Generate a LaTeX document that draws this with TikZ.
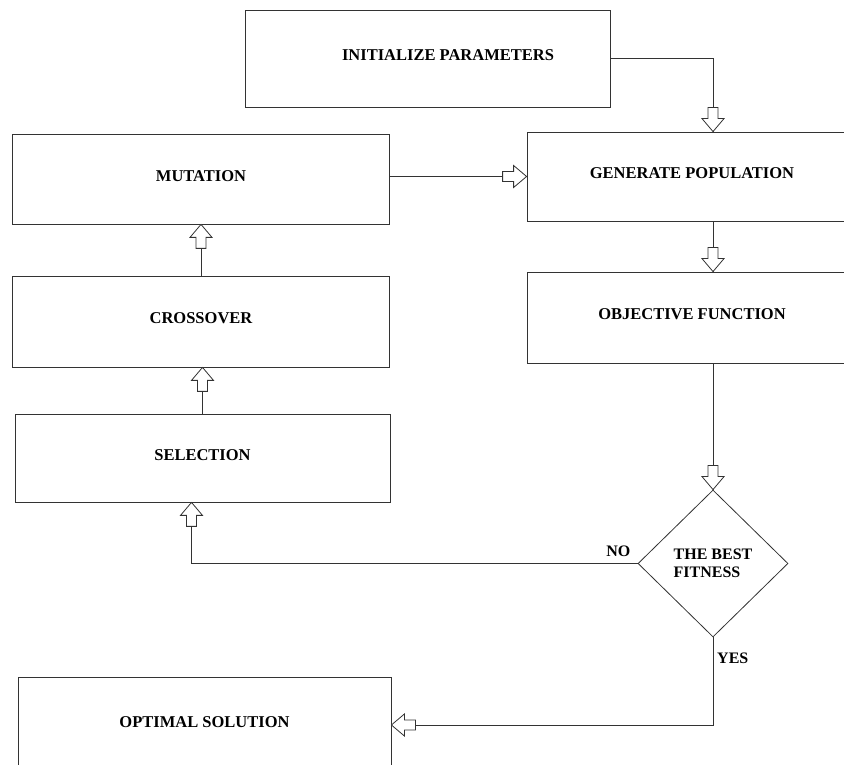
\documentclass[tikz,border=0pt]{standalone}
\usepackage{fontspec}
\setmainfont{Liberation Serif}
\usetikzlibrary{shapes.geometric,decorations.markings}
\tikzset{
  box/.style={draw=black!80, line width=0.8pt, minimum width=377pt, minimum height=90pt,
    text depth=6pt, font=\fontsize{16.5}{18}\selectfont\bfseries},
  dec/.style={diamond, draw=black!80, line width=0.8pt, minimum width=150pt, minimum height=147pt,
    inner sep=0pt, align=left, font=\fontsize{16}{18}\selectfont\bfseries},
  lbl/.style={inner sep=0pt, font=\fontsize{16}{18}\selectfont\bfseries},
  blk/.style={draw=black!80, line width=0.8pt, postaction={decorate},
    decoration={markings, mark=at position 1 with {
      \draw[draw=black!80, fill=white, line join=miter]
        (0pt,0pt) -- (-13pt,11pt) -- (-13pt,5pt) -- (-24pt,5pt)
        -- (-24pt,-5pt) -- (-13pt,-5pt) -- (-13pt,-11pt) -- cycle;}}}
}
\begin{document}
\begin{tikzpicture}[x=1pt,y=1pt]
  \useasboundingbox (0,0) rectangle (844,765);
  \clip (0,0) rectangle (844,765);
  % boxes
  \node[box, minimum width=365pt, minimum height=97pt] (init) at (427.5,706.5) {\hspace*{41pt}INITIALIZE PARAMETERS};
  \node[box] (mut) at (201,586) {MUTATION};
  \node[box, minimum height=91pt] (cross) at (201,443.5) {CROSSOVER};
  \node[box, minimum width=375pt, minimum height=88pt] (sel) at (202.5,307) {SELECTION};
  \node[box, minimum width=373pt, minimum height=96pt] (opt) at (204.5,40) {OPTIMAL SOLUTION};
  \node[box, minimum width=372pt, minimum height=89pt] (gen) at (713,588.5) {GENERATE POPULATION\hspace*{42pt}};
  \node[box, minimum width=372pt, minimum height=91pt] (obj) at (713,447.5) {OBJECTIVE FUNCTION\hspace*{42pt}};
  \node[dec] (fit) at (713,201.5) {THE BEST\\FITNESS};
  \node[lbl, anchor=south east] (no) at ([shift={(-7,7)}]fit.west) {NO};
  \node[lbl, anchor=north west] (yes) at ([shift={(4,-15)}]fit.south) {YES};
  % connectors
  \draw[blk] (init.east) -| (gen.north);
  \draw[blk] (mut.east|-gen.west) -- (gen.west);
  \draw[blk] (gen.south) -- (obj.north);
  \draw[blk] (obj.south) -- (fit.north);
  \draw[blk] (cross.north) -- (mut.south);
  \draw[blk] (sel.north) -- (sel.north|-cross.south);
  \draw[blk] (fit.west) -| ([xshift=-11pt]sel.south);
  \draw[blk] (fit.south) |- (opt.east);
\end{tikzpicture}
\end{document}
